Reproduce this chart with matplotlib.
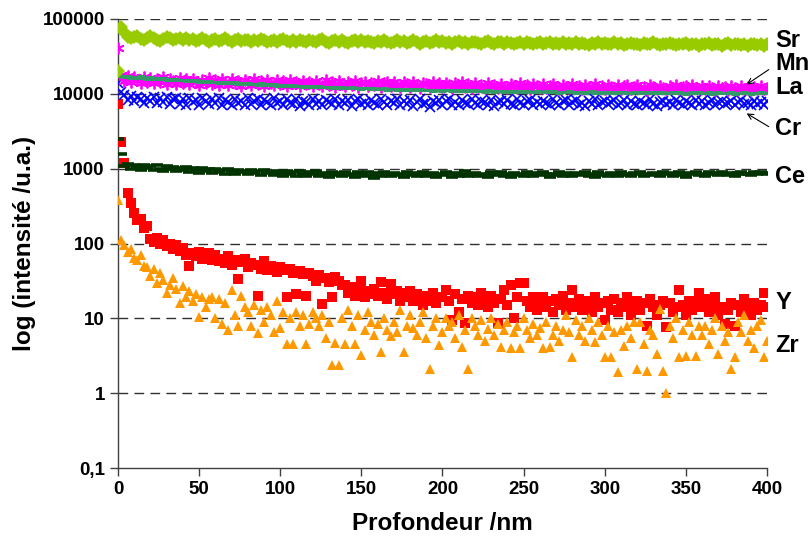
import matplotlib
matplotlib.use('Agg')
import matplotlib.pyplot as plt
import numpy as np

plt.rcParams['font.family'] = ['Liberation Sans', 'DejaVu Sans']
plt.rcParams['font.weight'] = 'bold'

# depth grid (nm), one measurement every 2 nm
depth = np.arange(0, 402, 2)

sr = [20000, 78000, 66000, 58000, 55000, 57000, 60000, 54000, 52000, 56000,
      59000, 55000, 53000, 51000, 54000, 57000, 55000, 52000, 54000, 56000,
      53000, 55000, 52000, 54000, 51000, 53000, 55000, 52000, 50000, 53000,
      54000, 51000, 52000, 55000, 53000, 50000, 52000, 54000, 51000, 53000,
      52000, 50000, 53000, 51000, 54000, 52000, 49000, 51000, 53000, 50000,
      52000, 54000, 51000, 49000, 52000, 50000, 53000, 51000, 50000, 52000,
      51000, 49000, 52000, 54000, 50000, 48000, 51000, 53000, 50000, 52000,
      50000, 48000, 51000, 53000, 50000, 52000, 49000, 51000, 50000, 48000,
      51000, 49000, 52000, 50000, 48000, 50000, 52000, 49000, 51000, 48000,
      50000, 52000, 49000, 47000, 50000, 51000, 48000, 50000, 52000, 49000,
      51000, 48000, 50000, 46000, 49000, 51000, 48000, 50000, 47000, 49000,
      50000, 48000, 46000, 49000, 51000, 48000, 47000, 49000, 50000, 47000,
      49000, 48000, 46000, 48000, 50000, 47000, 49000, 48000, 46000, 48000,
      49000, 47000, 48000, 50000, 46000, 48000, 47000, 49000, 46000, 48000,
      47000, 49000, 46000, 48000, 47000, 45000, 48000, 47000, 49000, 46000,
      48000, 46000, 47000, 49000, 46000, 48000, 45000, 47000, 48000, 46000,
      47000, 45000, 48000, 46000, 47000, 49000, 46000, 45000, 47000, 46000,
      48000, 46000, 45000, 47000, 46000, 48000, 45000, 47000, 46000, 44000,
      47000, 46000, 48000, 45000, 47000, 46000, 44000, 46000, 48000, 45000,
      46000, 47000, 45000, 46000, 44000, 46000, 47000, 45000, 46000, 44000,
      47000]

mn = [41000, 18000, 15000, 17200, 14300, 16800, 15400, 13900, 17000, 14600,
      16300, 13800, 15900, 14200, 16600, 13700, 15600, 14900, 13500, 16200,
      14100, 15800, 13400, 16000, 14500, 13300, 15500, 14000, 16100, 13600,
      15300, 13200, 15700, 14400, 13100, 15900, 13900, 15000, 12900, 15400,
      14200, 13000, 15600, 13600, 14800, 12800, 15200, 14000, 13300, 15500,
      13500, 14900, 12700, 15300, 13800, 14600, 12900, 15000, 13400, 14300,
      12800, 14700, 13600, 12600, 15100, 13200, 14400, 12500, 14800, 13700,
      12700, 14500, 13100, 14900, 12400, 13900, 14600, 12600, 14100, 13300,
      14700, 12300, 13800, 14300, 12600, 14500, 13000, 12200, 14200, 13500,
      12500, 14400, 13200, 12100, 14000, 13600, 12400, 14300, 12900, 13800,
      12200, 14100, 13100, 12000, 13900, 12700, 14200, 12300, 13400, 12100,
      13800, 12500, 13300, 11900, 14000, 12600, 13200, 12000, 13700, 12400,
      11800, 13500, 12800, 12100, 13900, 12300, 13000, 11700, 13600, 12600,
      12000, 13400, 11800, 12900, 13700, 12200, 11700, 13300, 12500, 11900,
      13500, 12100, 12700, 11600, 13200, 12400, 11800, 13400, 12000, 12800,
      11600, 13100, 12300, 11900, 13300, 11700, 12600, 13000, 11500, 12400,
      13200, 11800, 12500, 11400, 13000, 12200, 11700, 12900, 12000, 11500,
      12800, 11900, 13100, 11600, 12300, 12700, 11400, 13000, 12100, 11700,
      12600, 11500, 12900, 12000, 11300, 12800, 11800, 12400, 11400, 12700,
      11900, 11400, 12600, 11700, 12200, 11200, 12500, 11600, 12900, 11500,
      12000]

la = [19000, 17500, 16600, 17300, 16400, 16900, 16100, 17100, 16300, 15900,
      16700, 15800, 16200, 15600, 16300, 15400, 15900, 15200, 15700, 15300,
      15500, 14900, 15300, 14700, 15100, 14600, 14900, 14300, 14800, 14400,
      14600, 14100, 14400, 14000, 14500, 13800, 14200, 13700, 14000, 13600,
      13900, 13400, 13700, 13300, 13800, 13100, 13500, 13000, 13400, 12900,
      13200, 12800, 13100, 12700, 13000, 12600, 12900, 12500, 12800, 12400,
      12700, 12300, 12600, 12200, 12500, 12300, 12100, 12400, 12000, 12300,
      12100, 11900, 12200, 11800, 12100, 11700, 12000, 11800, 11600, 11900,
      11700, 11500, 11800, 11400, 11700, 11500, 11300, 11600, 11400, 11700,
      11300, 11500, 11200, 11600, 11100, 11400, 11300, 11000, 11400, 11200,
      11000, 11300, 11100, 10900, 11200, 11000, 11300, 10800, 11100, 10900,
      11200, 10800, 11000, 10700, 11100, 10900, 10700, 11000, 10800, 10600,
      10900, 10700, 11000, 10600, 10800, 10500, 10900, 10700, 10600, 10800,
      10500, 10700, 10900, 10500, 10800, 10600, 10400, 10700, 10500, 10800,
      10600, 10400, 10700, 10500, 10300, 10600, 10800, 10400, 10600, 10300,
      10500, 10700, 10400, 10600, 10300, 10500, 10700, 10400, 10200, 10500,
      10600, 10300, 10500, 10400, 10700, 10200, 10500, 10300, 10600, 10400,
      10200, 10500, 10300, 10600, 10400, 10100, 10400, 10600, 10300, 10500,
      10200, 10400, 10500, 10100, 10300, 10600, 10200, 10400, 10300, 10500,
      10100, 10400, 10200, 10500, 10300, 10100, 10400, 10200, 10500, 10300,
      10400]

cr = [14000, 10500, 9600, 8200, 9300, 7900, 9000, 8500, 7600, 8900,
      8000, 9200, 7500, 8700, 7800, 9000, 7300, 8400, 8800, 7400,
      8600, 7200, 8900, 7700, 8300, 7100, 8700, 7900, 7300, 8500,
      7600, 8800, 7100, 8200, 7800, 7000, 8600, 7500, 8100, 7200,
      8700, 7400, 7900, 8500, 7000, 8300, 7700, 7200, 8800, 7500,
      8000, 7100, 8600, 7600, 7300, 8400, 6900, 8100, 7800, 7200,
      8500, 7400, 7900, 7000, 8300, 7700, 7300, 8600, 7100, 8000,
      7500, 8200, 6800, 7900, 8500, 7300, 7800, 7000, 8300, 7600,
      7200, 8400, 7700, 7000, 8100, 7500, 8600, 7100, 7900, 7400,
      8200, 6900, 7800, 8400, 7300, 7600, 6700, 8000, 7500, 8300,
      7100, 7900, 8500, 7200, 7700, 7000, 8200, 7600, 7300, 8400,
      7500, 7000, 8100, 7800, 7200, 8300, 6900, 7700, 8000, 7300,
      8200, 7400, 7100, 8500, 7600, 7000, 7900, 8300, 7200, 7800,
      7300, 8100, 7600, 7000, 8400, 7500, 7200, 7900, 8200, 7100,
      7700, 8300, 7200, 7600, 6900, 8000, 7400, 8400, 7100, 7800,
      8100, 7300, 7700, 8300, 7000, 7500, 8200, 7200, 7900, 7400,
      7100, 8000, 7600, 7200, 8400, 7400, 6900, 7800, 8100, 7300,
      7700, 7100, 8300, 7500, 7200, 8000, 7600, 7000, 8200, 7400,
      7900, 7200, 7600, 8300, 7100, 7700, 8000, 7300, 7500, 8100,
      7000, 7800, 8200, 7300, 7600, 7100, 8000, 7400, 7700, 7200,
      7900]

ce = [2500, 1560, 1100, 1150, 1000, 1120, 1060, 960, 1130, 1010,
      1080, 960, 1120, 1000, 930, 1090, 980, 1050, 920, 1030,
      950, 1060, 900, 1010, 960, 880, 1020, 930, 990, 870,
      1000, 900, 950, 850, 980, 920, 860, 960, 890, 940,
      840, 950, 880, 920, 830, 960, 870, 900, 820, 930,
      880, 800, 940, 850, 900, 810, 920, 860, 790, 900,
      840, 920, 800, 880, 850, 780, 910, 830, 870, 800,
      900, 820, 860, 780, 890, 840, 800, 910, 830, 760,
      870, 810, 900, 840, 790, 880, 820, 860, 770, 900,
      830, 870, 790, 850, 910, 800, 840, 880, 780, 860,
      820, 900, 840, 780, 870, 810, 850, 920, 790, 840,
      880, 800, 860, 830, 770, 890, 820, 850, 900, 810,
      840, 780, 880, 830, 860, 800, 910, 840, 790, 870,
      820, 890, 850, 780, 860, 830, 900, 800, 870, 840,
      790, 880, 820, 860, 910, 810, 850, 780, 890, 830,
      860, 800, 880, 840, 790, 900, 830, 860, 810, 870,
      840, 900, 790, 860, 820, 880, 850, 800, 910, 840,
      870, 810, 860, 890, 830, 780, 880, 850, 900, 820,
      860, 800, 890, 840, 870, 820, 910, 850, 830, 880,
      810, 870, 900, 840, 860, 820, 890, 850, 910, 870,
      860]

y_el = [7300, 2270, 1190, 470, 345, 255, 205, 210, 160, 170,
        115, 105, 120, 98, 110, 92, 100, 85, 95, 80,
        88, 70, 50, 75, 68, 78, 62, 65, 74, 60,
        70, 58, 63, 55, 68, 52, 60, 34, 57, 62,
        48, 55, 52, 20, 46, 58, 44, 50, 46, 42,
        48, 44, 19, 45, 40, 21, 43, 39, 20, 40,
        37, 32, 38, 15.5, 35, 31, 19, 36, 32, 28,
        28, 22, 26, 20, 24, 32, 19, 23, 21, 25,
        20, 31, 22, 18, 29, 21, 23, 17, 22, 19,
        23, 17, 21, 18, 15, 20, 17, 22, 16, 19,
        19, 24, 17, 9.6, 21, 12, 18, 8.6, 20, 16,
        19, 15, 22, 17, 14, 20, 16, 8.6, 18, 24,
        15, 28, 10, 19, 29.5, 30, 17, 14, 19, 13,
        16, 19, 14, 17, 12, 18, 15, 20, 13, 16,
        24, 14, 18, 13, 17, 15, 12, 19, 14, 16,
        9.4, 17, 13, 18, 12, 16, 14, 19, 11, 15,
        17, 13, 16, 7.8, 18, 14, 11, 15, 17, 7.7,
        16, 12, 14, 24, 15, 11, 17, 13, 16, 22,
        14, 18, 12, 15, 19, 11, 14, 8.5, 13, 16,
        7.8, 15, 12, 18, 14, 11, 16, 13, 15, 22,
        14]

zr = [380, 111, 95, 76, 85, 65, 60, 70, 50, 48,
      37, 45, 30, 40, 33, 22, 28, 35, 25, 16,
      27, 19, 23, 17, 21, 10.3, 19, 14, 18, 19,
      10, 18, 8.5, 16, 7, 24, 11, 8, 20, 14,
      12, 8, 15, 6.3, 13, 9, 14, 11, 6.5, 17,
      7.5, 12, 4.6, 10, 4.6, 12, 8, 11, 4.6, 8.5,
      12, 10, 7.9, 11, 5.5, 9, 2.37, 4.7, 2.4, 10,
      4.6, 13, 8, 4.6, 11, 3.2, 7, 12, 9, 6,
      8.5, 3.6, 10, 7, 5.8, 9, 6.5, 13, 3.6, 8,
      11, 7.5, 6, 9, 12, 5.5, 2.1, 8, 10, 4.4,
      6.5, 10, 7.8, 9, 5.5, 11, 4.2, 7, 2.1, 10,
      8, 6, 9.5, 5, 7.2, 10, 6, 8.5, 4.1, 7,
      9, 4, 6.5, 8, 4, 10, 7, 5.5, 8.5, 6,
      7.5, 4, 9, 4.2, 6, 8, 5, 7, 11, 6.5,
      3, 9.5, 6, 8, 5, 10, 7, 4.8, 9, 6,
      3, 8, 3, 6.5, 1.9, 7, 4.3, 8, 5.5, 9,
      2.1, 9, 4.5, 2.0, 7, 6, 3.3, 13.5, 2.0, 1.0,
      8, 5.5, 10, 3, 7, 3.1, 9, 6, 3.1, 8,
      6, 8, 4.5, 7, 10, 3.3, 8, 5, 6.5, 2.1,
      3, 9, 6.5, 11, 5, 7, 4, 8, 9.5, 3,
      5]

x_ticks = [0, 50, 100, 150, 200, 250, 300, 350, 400]
y_ticks = [0.1, 1, 10, 100, 1000, 10000, 100000]
y_ticklabels = ['0,1', '1', '10', '100', '1000', '10000', '100000']

fig = plt.figure(figsize=(8.12, 5.41), dpi=100)
ax = fig.add_axes([0.1453, 0.1349, 0.7993, 0.8300])

ax.plot(depth, y_el, linestyle='none', marker='s', ms=6.5, mew=0,
        color='#FF0000', zorder=3)
ax.plot(depth, zr, linestyle='none', marker='^', ms=7.5, mew=0,
        color='#FF9900', zorder=3)
ax.plot(depth, ce, linestyle='none', marker='_', ms=9, mew=2.6,
        color='#003300', zorder=3)
ax.plot(depth, cr, linestyle='none', marker='x', ms=7.5, mew=1.2,
        color='#0000FF', zorder=3)
ax.plot(depth, mn, linestyle='none', marker=(6, 2, 0), ms=8.5, mew=1.3,
        color='#FF00FF', zorder=3)
ax.plot(depth, la, linestyle='none', marker='_', ms=6, mew=2.2,
        color='#339966', zorder=3)
ax.plot(depth, sr, linestyle='none', marker='D', ms=7, mew=0,
        color='#99CC00', zorder=3)

ax.set_yscale('log')
ax.set_xlim(0, 400)
ax.set_ylim(0.1, 100000)
ax.set_xticks(x_ticks)
ax.set_yticks(y_ticks)
ax.set_yticklabels(y_ticklabels)
ax.yaxis.set_minor_locator(matplotlib.ticker.NullLocator())
ax.tick_params(axis='both', labelsize=13.5, direction='out', length=6,
               width=1, color='#404040')
for lab in ax.get_xticklabels() + ax.get_yticklabels():
    lab.set_fontweight('bold')

for v in y_ticks[1:]:
    ax.axhline(v, color='#303030', lw=1, dashes=(7, 4.5), zorder=1)

for side in ['top', 'right']:
    ax.spines[side].set_visible(False)
for side in ['left', 'bottom']:
    ax.spines[side].set_color('#404040')
    ax.spines[side].set_linewidth(1)

ax.set_xlabel('Profondeur /nm', fontsize=17.5, fontweight='bold', labelpad=10)
ax.set_ylabel('log (intensité /u.a.)', fontsize=17.5, fontweight='bold',
              labelpad=5)

# element labels on the right
labels = ['Sr', 'Mn', 'La', 'Cr', 'Ce', 'Y', 'Zr']
label_y = [52300, 25800, 11970, 3490, 796, 16.5, 4.4]
for name, yv in zip(labels, label_y):
    ax.text(405, yv, name, fontsize=17, fontweight='bold', ha='left',
            va='center', clip_on=False)

ax.annotate('', xy=(386, 12700), xytext=(402.5, 22100),
            arrowprops=dict(arrowstyle='->', color='black', lw=0.8),
            annotation_clip=False)
ax.annotate('', xy=(386, 5720), xytext=(402.5, 3490),
            arrowprops=dict(arrowstyle='->', color='black', lw=0.8),
            annotation_clip=False)

fig.savefig('out.png', dpi=100)
